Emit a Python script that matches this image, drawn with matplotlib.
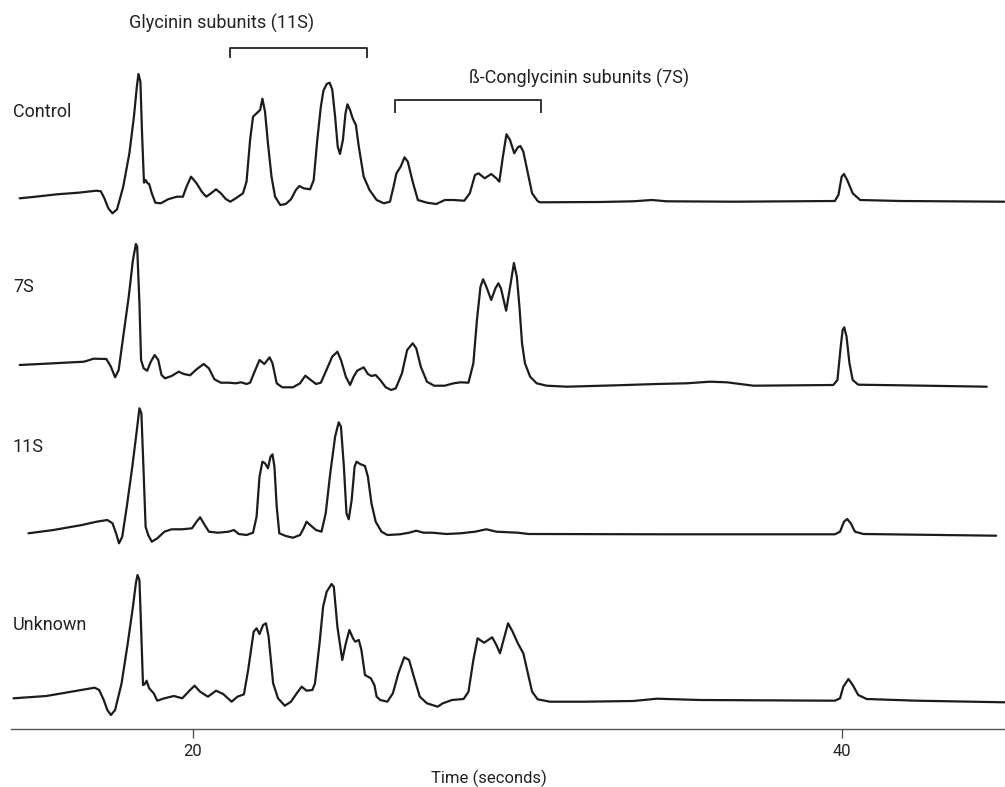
import matplotlib
matplotlib.use("Agg")
import matplotlib.pyplot as plt

# ---------------- data (time in seconds, signal in relative units) ----------------
control_time = [14.66, 15.15, 15.81, 16.47, 17.02, 17.16, 17.27, 17.39, 17.52, 17.66, 17.85, 18.04, 18.18, 18.27,
                18.32, 18.38, 18.43, 18.49, 18.54, 18.60, 18.65, 18.73, 18.84, 19.01, 19.23, 19.50, 19.69, 19.80,
                19.94, 20.11, 20.27, 20.41, 20.58, 20.71, 20.86, 21.01, 21.15, 21.32, 21.54, 21.65, 21.76, 21.85,
                21.98, 22.07, 22.14, 22.22, 22.31, 22.42, 22.53, 22.69, 22.86, 23.02, 23.17, 23.28, 23.41, 23.61,
                23.72, 23.83, 23.94, 24.02, 24.12, 24.21, 24.29, 24.38, 24.46, 24.53, 24.62, 24.70, 24.76, 24.84,
                24.92, 25.02, 25.11, 25.26, 25.44, 25.66, 25.88, 26.07, 26.18, 26.27, 26.40, 26.52, 26.62, 26.77,
                26.93, 27.21, 27.50, 27.76, 28.03, 28.36, 28.53, 28.69, 28.80, 28.99, 29.19, 29.35, 29.44, 29.55,
                29.66, 29.77, 29.90, 30.01, 30.09, 30.18, 30.32, 30.45, 30.62, 30.69, 32.54, 33.57, 34.14, 34.60,
                36.65, 39.78, 39.89, 39.99, 40.06, 40.16, 40.33, 40.56, 41.79, 45.00]
control_signal = [3.7, 5.3, 7.7, 9.3, 11.3, 10.7, 3.7, -6.3, -11.3, -7.3, 15.3, 48.7, 85.3, 115.3,
                  128.0, 120.3, 68.7, 19.3, 22.0, 18.7, 18.0, 8.7, -0.7, -1.3, 2.7, 5.3, 5.3, 15.3,
                  25.3, 18.7, 10.3, 5.3, 9.3, 12.7, 8.7, 3.0, 0.3, 3.7, 8.7, 20.3, 62.0, 85.3,
                  89.3, 92.0, 103.3, 90.3, 58.7, 25.3, 5.3, -3.0, -2.0, 2.7, 12.0, 16.0, 13.7, 12.7,
                  22.0, 62.0, 95.3, 111.3, 118.0, 119.3, 112.7, 85.3, 55.3, 48.0, 62.0, 88.7, 97.7, 92.0,
                  83.7, 77.0, 55.3, 25.3, 12.0, 2.0, -1.3, 0.3, 15.3, 28.7, 35.3, 44.7, 40.3, 20.3,
                  2.0, -0.7, -2.0, 2.0, 2.0, 1.3, 8.7, 27.0, 28.7, 23.7, 28.0, 23.7, 20.3, 45.3,
                  67.7, 62.0, 48.7, 54.7, 56.0, 50.3, 28.7, 8.7, 1.0, -0.3, 0.0, 0.7, 2.0, 0.7,
                  0.3, 1.0, 7.0, 25.3, 28.0, 22.0, 8.7, 2.0, 1.0, 0.3]

s7_time = [14.66, 15.70, 16.64, 16.94, 17.33, 17.47, 17.60, 17.71, 17.85, 18.02, 18.15, 18.24, 18.28, 18.35,
           18.40, 18.48, 18.59, 18.70, 18.82, 18.93, 19.03, 19.14, 19.34, 19.56, 19.72, 19.91, 20.11, 20.33,
           20.49, 20.66, 20.86, 21.10, 21.32, 21.48, 21.65, 21.76, 21.92, 22.05, 22.20, 22.36, 22.45, 22.58,
           22.75, 23.08, 23.30, 23.46, 23.63, 23.79, 23.94, 24.09, 24.29, 24.45, 24.56, 24.71, 24.84, 24.95,
           25.06, 25.26, 25.39, 25.50, 25.63, 25.77, 25.94, 26.11, 26.25, 26.44, 26.60, 26.77, 26.88, 27.02,
           27.21, 27.43, 27.76, 28.03, 28.25, 28.49, 28.64, 28.75, 28.86, 28.94, 29.04, 29.19, 29.32, 29.41,
           29.49, 29.65, 29.79, 29.89, 29.98, 30.06, 30.14, 30.23, 30.39, 30.59, 30.90, 31.52, 33.06, 34.29,
           35.21, 35.93, 36.45, 37.27, 39.73, 39.86, 39.96, 40.02, 40.07, 40.14, 40.23, 40.33, 40.50, 41.79,
           44.46]
s7_signal = [21.0, 22.7, 24.3, 27.3, 27.0, 19.3, 8.7, 16.0, 49.3, 89.3, 126.0, 142.0, 139.3, 82.7,
             26.0, 17.7, 15.3, 24.3, 31.0, 26.0, 11.0, 7.7, 10.0, 14.3, 12.0, 10.7, 16.7, 22.0,
             17.7, 6.7, 3.3, 3.3, 2.7, 3.7, 2.0, 3.3, 16.0, 26.0, 22.0, 28.7, 22.7, 2.7,
             -1.3, -1.3, 2.7, 10.3, 6.0, 2.0, 3.3, 14.3, 29.3, 34.3, 26.0, 9.3, 1.0, 9.3,
             15.3, 18.7, 12.0, 10.0, 11.0, 6.0, -1.3, -4.0, -2.3, 12.7, 36.0, 42.7, 37.7, 19.3,
             4.3, 0.3, 0.3, 2.7, 3.7, 3.3, 22.7, 66.0, 99.3, 106.7, 99.3, 86.0, 97.7, 102.7,
             97.7, 75.3, 102.7, 123.0, 109.3, 79.3, 42.7, 22.7, 9.3, 2.7, 0.3, -0.7, 0.7, 2.0,
             2.7, 4.3, 3.7, 0.3, 1.0, 6.0, 39.3, 56.0, 58.7, 49.3, 22.7, 6.0, 1.3, 0.7,
             -0.7]

s11_time = [14.93, 15.70, 16.58, 17.03, 17.36, 17.52, 17.63, 17.72, 17.82, 17.96, 18.13, 18.27, 18.35, 18.41,
            18.48, 18.54, 18.62, 18.73, 18.90, 19.12, 19.34, 19.67, 19.97, 20.11, 20.22, 20.33, 20.49, 20.77,
            21.10, 21.26, 21.41, 21.65, 21.85, 21.96, 22.05, 22.14, 22.22, 22.31, 22.39, 22.45, 22.51, 22.58,
            22.66, 22.86, 23.08, 23.30, 23.41, 23.50, 23.61, 23.79, 23.96, 24.09, 24.23, 24.38, 24.49, 24.56,
            24.65, 24.73, 24.80, 24.89, 24.98, 25.04, 25.15, 25.30, 25.39, 25.50, 25.63, 25.81, 25.99, 26.38,
            26.66, 26.88, 27.10, 27.37, 27.81, 28.25, 28.69, 29.04, 29.35, 30.01, 30.34, 34.60, 39.78, 39.94,
            40.06, 40.16, 40.27, 40.40, 40.66, 44.75]
s11_signal = [0.7, 4.0, 9.0, 12.3, 14.0, 10.7, 0.7, -9.3, -2.7, 27.3, 67.3, 104.0, 125.7, 120.7,
              60.7, 7.3, -1.0, -7.7, -4.3, 2.3, 4.7, 4.7, 5.7, 12.3, 16.7, 10.7, 2.3, 1.3,
              2.3, 4.0, 0.0, -1.0, 1.3, 17.3, 57.3, 72.3, 70.7, 65.7, 77.3, 79.7, 67.3, 27.3,
              0.7, -2.0, -3.7, -1.0, 5.7, 12.3, 9.0, 4.0, 2.3, 20.7, 60.7, 97.3, 111.7, 107.3,
              67.3, 20.7, 14.7, 34.0, 67.3, 72.3, 70.0, 68.0, 57.3, 30.7, 12.3, 2.3, -1.0, -0.3,
              1.3, 3.3, 1.3, 1.3, 0.0, 0.7, 2.3, 4.7, 2.3, 1.3, 0.0, -0.3, -0.3, 2.3,
              12.3, 15.0, 10.7, 2.3, 0.0, -1.7]

unknown_time = [14.47, 15.48, 16.25, 16.97, 17.11, 17.25, 17.36, 17.47, 17.60, 17.80, 17.99, 18.15, 18.24, 18.29,
                18.35, 18.40, 18.46, 18.51, 18.57, 18.65, 18.79, 18.90, 19.12, 19.41, 19.67, 19.89, 20.05, 20.22,
                20.46, 20.71, 20.93, 21.19, 21.37, 21.57, 21.70, 21.87, 21.96, 22.05, 22.16, 22.25, 22.33, 22.47,
                22.62, 22.83, 23.02, 23.21, 23.35, 23.50, 23.68, 23.76, 23.90, 24.01, 24.12, 24.27, 24.34, 24.45,
                24.60, 24.71, 24.82, 24.93, 25.00, 25.11, 25.19, 25.30, 25.48, 25.59, 25.66, 25.77, 25.99, 26.16,
                26.33, 26.51, 26.66, 26.82, 26.99, 27.21, 27.54, 27.70, 27.98, 28.34, 28.49, 28.64, 28.77, 28.97,
                29.22, 29.35, 29.46, 29.57, 29.71, 29.85, 30.01, 30.18, 30.32, 30.45, 30.62, 31.00, 32.03, 33.57,
                34.29, 35.62, 39.78, 39.94, 40.04, 40.20, 40.33, 40.50, 40.76, 42.30, 45.02]
unknown_signal = [1.7, 4.0, 8.3, 12.3, 10.0, 0.0, -10.0, -15.0, -10.0, 16.7, 56.7, 93.3, 116.7, 125.0,
                  120.0, 73.3, 15.0, 15.7, 19.3, 11.7, 6.7, -0.7, 1.7, 4.0, 1.7, 9.3, 14.3, 8.3,
                  3.3, 9.3, 6.0, -1.7, 3.3, 5.7, 30.0, 68.3, 71.7, 66.0, 75.0, 76.7, 63.3, 16.7,
                  1.7, -5.7, -1.7, 7.3, 13.3, 9.3, 10.0, 16.7, 56.7, 93.3, 108.3, 116.0, 113.3, 73.3,
                  40.0, 56.7, 70.0, 61.7, 58.3, 60.0, 50.0, 25.0, 21.7, 15.0, 3.3, 0.0, -1.7, 6.7,
                  26.7, 42.7, 40.0, 21.7, 3.3, -3.3, -6.7, -3.3, 0.0, 1.0, 8.3, 40.0, 61.7, 57.3,
                  62.7, 55.0, 46.7, 60.0, 76.7, 68.3, 56.7, 46.7, 26.7, 8.3, 0.7, -1.7, -1.7, -1.0,
                  1.3, 0.0, -0.7, 1.7, 13.3, 21.0, 15.0, 5.0, 1.0, -0.7, -2.3]

trace_names = ["Control", "7S", "11S", "Unknown"]
x_ticks = [20, 40]
x_label = "Time (seconds)"
group_labels = ["Glycinin subunits (11S)", "ß-Conglycinin subunits (7S)"]
group_spans = [(21.14, 25.36), (26.23, 30.73)]

# ---------------- layout ----------------
plt.rcParams['font.family'] = ['Liberation Sans Narrow', 'Roboto', 'DejaVu Sans']
fig = plt.figure(figsize=(10.05, 7.87), dpi=100)
ax = fig.add_axes([0, 0, 1, 1])
ax.set_xlim(14.053, 45.023)
ax.set_ylim(-58, 729)

series = [(control_time, control_signal), (s7_time, s7_signal),
          (s11_time, s11_signal), (unknown_time, unknown_signal)]
offsets = [527, 343, 195, 29]
label_y = [617, 442, 282, 104]
line_col = '#1c1c1c'
for (t, s), off, name, ly in zip(series, offsets, trace_names, label_y):
    ax.plot(t, [v + off for v in s], color=line_col, lw=1.6, solid_joinstyle='round',
            solid_capstyle='round')
    ax.text(14.45, ly, name, ha='left', va='center', fontsize=13, color='#222222')

# group brackets
bracket_y = [(681, 672), (629, 617)]
title_pos = [(20.89, 706), (31.90, 651)]
for (x0, x1), (ytop, ybot), lab, (tx, ty) in zip(group_spans, bracket_y, group_labels, title_pos):
    ax.plot([x0, x0, x1, x1], [ybot, ytop, ytop, ybot], color='#333333', lw=1.4)
    ax.text(tx, ty, lab, ha='center', va='center', fontsize=13, color='#222222')

# axis
for sp in ['top', 'right', 'left']:
    ax.spines[sp].set_visible(False)
ax.spines['bottom'].set_position(('data', 0))
ax.spines['bottom'].set_bounds(14.39, 45.02)
ax.spines['bottom'].set_color('#555555')
ax.spines['bottom'].set_linewidth(1.0)
ax.set_yticks([])
ax.set_xticks(x_ticks)
ax.set_xticklabels([str(v) for v in x_ticks])
ax.tick_params(axis='x', direction='out', length=6.5, width=1.0, color='#555555',
               labelsize=12, labelcolor='#222222', pad=4)
ax.text(29.12, -49, x_label, ha='center', va='center', fontsize=12, color='#222222')

fig.savefig('out.png', dpi=100)
